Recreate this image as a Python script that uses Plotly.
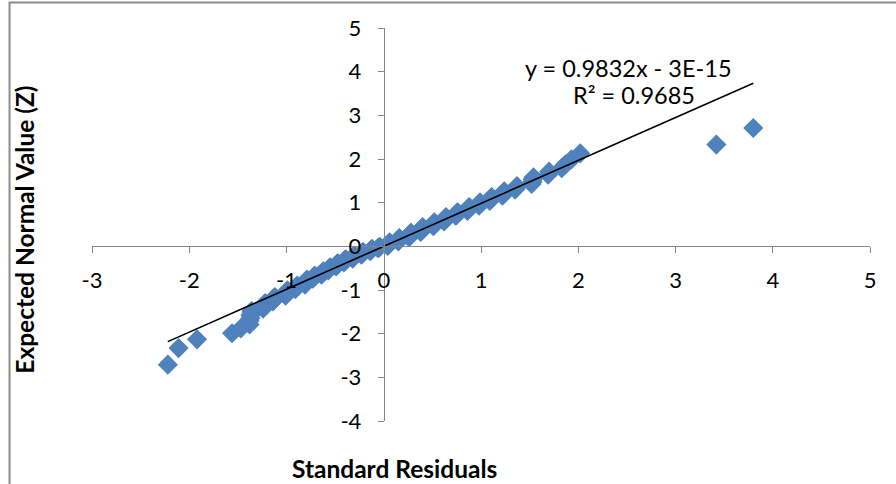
import plotly.graph_objects as go

# Standard residuals (sorted) and their expected normal scores
std_residuals = [
    -2.22, -2.11, -1.92, -1.56, -1.47,
    -1.38, -1.38, -1.37, -1.37, -1.36, -1.36,
    -1.24, -1.23, -1.23, -1.22,
    -1.14, -1.13, -1.13, -1.12,
    -1.01, -1.01, -1.00, -1.00, -0.99,
    -0.91, -0.90, -0.90, -0.89,
    -0.81, -0.81, -0.80, -0.80, -0.79, -0.79,
    -0.73, -0.72, -0.72, -0.71,
    -0.64, -0.64, -0.63, -0.63, -0.62,
    -0.57, -0.57, -0.56, -0.56, -0.55,
    -0.49, -0.49, -0.48, -0.48, -0.47,
    -0.41, -0.41, -0.40, -0.40, -0.39,
    -0.32, -0.32, -0.31, -0.31, -0.30,
    -0.23, -0.23, -0.22, -0.22, -0.21,
    -0.14, -0.13, -0.13, -0.12,
    -0.06, -0.05, -0.04,
    0.04, 0.04, 0.05, 0.05, 0.06, 0.06,
    0.15, 0.15, 0.15, 0.16, 0.16, 0.16,
    0.26, 0.26, 0.27, 0.27, 0.27, 0.28, 0.28,
    0.38, 0.38, 0.39, 0.39, 0.39, 0.40, 0.40,
    0.51, 0.51, 0.51, 0.52, 0.52, 0.52,
    0.62, 0.62, 0.63, 0.63, 0.64, 0.64,
    0.74, 0.75, 0.75, 0.75, 0.76,
    0.86, 0.86, 0.87, 0.87, 0.88,
    0.98, 0.98, 0.99, 0.99,
    1.09, 1.10, 1.10, 1.11,
    1.22, 1.23, 1.23, 1.24,
    1.35, 1.36, 1.37,
    1.52, 1.53, 1.53, 1.54,
    1.69, 1.70,
    1.83, 1.87, 1.93, 2.02, 3.42, 3.80,
]

expected_z = [
    -2.71, -2.33, -2.13, -1.99, -1.88, -1.79, -1.71, -1.64, -1.58, -1.53,
    -1.48, -1.43, -1.38, -1.34, -1.30, -1.26, -1.23, -1.19, -1.16, -1.13,
    -1.10, -1.07, -1.04, -1.01, -0.98, -0.95, -0.93, -0.90, -0.88, -0.85,
    -0.83, -0.81, -0.78, -0.76, -0.74, -0.72, -0.70, -0.67, -0.65, -0.63,
    -0.61, -0.59, -0.57, -0.55, -0.53, -0.52, -0.50, -0.48, -0.46, -0.44,
    -0.42, -0.40, -0.39, -0.37, -0.35, -0.33, -0.31, -0.30, -0.28, -0.26,
    -0.25, -0.23, -0.21, -0.19, -0.18, -0.16, -0.14, -0.13, -0.11, -0.09,
    -0.08, -0.06, -0.04, -0.03, -0.01,
    0.01, 0.03, 0.04, 0.06, 0.08, 0.09, 0.11, 0.13, 0.14, 0.16,
    0.18, 0.19, 0.21, 0.23, 0.25, 0.26, 0.28, 0.30, 0.31, 0.33,
    0.35, 0.37, 0.39, 0.40, 0.42, 0.44, 0.46, 0.48, 0.50, 0.52,
    0.53, 0.55, 0.57, 0.59, 0.61, 0.63, 0.65, 0.67, 0.70, 0.72,
    0.74, 0.76, 0.78, 0.81, 0.83, 0.85, 0.88, 0.90, 0.93, 0.95,
    0.98, 1.01, 1.04, 1.07, 1.10, 1.13, 1.16, 1.19, 1.23, 1.26,
    1.30, 1.34, 1.38, 1.43, 1.48, 1.53, 1.58, 1.64, 1.71, 1.79,
    1.88, 1.99, 2.13, 2.33, 2.71,
]

# Linear trend line coefficients and fit statistic
slope = 0.9832
intercept = -3e-15
r_squared = 0.9685

x_ticks = [-3, -2, -1, 0, 1, 2, 3, 4, 5]
y_ticks = [-4, -3, -2, -1, 0, 1, 2, 3, 4, 5]
x_tick_labels = ["-3", "-2", "-1", "0", "1", "2", "3", "4", "5"]
y_tick_labels = ["-4", "-3", "-2", "-1", "0", "1", "2", "3", "4", "5"]

x_range = [x_ticks[0], x_ticks[-1]]
y_range = [y_ticks[0], y_ticks[-1]]

FONT = "Lato, 'Open Sans', sans-serif"
AXIS_GREY = "#868686"

x_line = [min(std_residuals), max(std_residuals)]
y_line = [slope * v + intercept for v in x_line]

fig = go.Figure()

fig.add_trace(go.Scatter(
    x=std_residuals, y=expected_z, mode="markers",
    marker=dict(symbol="diamond", size=15.5, color="#4F81BD", line=dict(width=0)),
    showlegend=False, hoverinfo="x+y",
))

fig.add_trace(go.Scatter(
    x=x_line, y=y_line, mode="lines",
    line=dict(color="black", width=1.6),
    showlegend=False, hoverinfo="skip",
))

# Axes cross at the origin
x_pos = (0 - y_range[0]) / (y_range[1] - y_range[0])
y_pos = (0 - x_range[0]) / (x_range[1] - x_range[0])

fig.update_xaxes(
    range=x_range, tickvals=x_ticks, ticktext=x_tick_labels,
    anchor="free", position=x_pos,
    showline=True, linecolor=AXIS_GREY, linewidth=1,
    ticks="outside", ticklen=6, tickcolor=AXIS_GREY, tickwidth=1,
    showgrid=False, zeroline=False, automargin=False,
    tickfont=dict(family=FONT, size=22, color="black"),
    ticklabelstandoff=8,
)
fig.update_yaxes(
    range=y_range, tickvals=y_ticks, ticktext=y_tick_labels,
    anchor="free", position=y_pos,
    showline=True, linecolor=AXIS_GREY, linewidth=1,
    ticks="outside", ticklen=6, tickcolor=AXIS_GREY, tickwidth=1,
    showgrid=False, zeroline=False, automargin=False,
    tickfont=dict(family=FONT, size=22, color="black"),
    ticklabelstandoff=12,
)

# Regression equation and R²
fig.add_annotation(
    x=0.689, y=0.898, xref="paper", yref="paper", showarrow=False,
    xanchor="center", yanchor="middle",
    text=f"y = {slope}x - 3E-15",
    font=dict(family=FONT, size=23.5, color="black"),
)
fig.add_annotation(
    x=0.697, y=0.83, xref="paper", yref="paper", showarrow=False,
    xanchor="center", yanchor="middle",
    text=f"R² = {r_squared}",
    font=dict(family=FONT, size=23.5, color="black"),
)

# Axis titles
fig.add_annotation(
    x=0.389, y=-0.12, xref="paper", yref="paper", showarrow=False,
    xanchor="center", yanchor="middle",
    text="<b>Standard Residuals</b>",
    font=dict(family=FONT, size=24.5, color="black"),
)
fig.add_annotation(
    x=-0.086, y=0.487, xref="paper", yref="paper", showarrow=False,
    xanchor="center", yanchor="middle", textangle=-90,
    text="<b>Expected Normal Value (Z)</b>",
    font=dict(family=FONT, size=24.5, color="black"),
)

# Chart-area border
fig.add_shape(
    type="rect", xref="paper", yref="paper",
    x0=-0.106, y0=-0.5, x1=1.3, y1=1.065,
    line=dict(color="#8c8c8c", width=2), fillcolor="rgba(0,0,0,0)", layer="below",
)

fig.update_layout(
    width=896, height=484,
    margin=dict(l=92, r=26, t=28, b=63),
    plot_bgcolor="white", paper_bgcolor="white",
)

fig.write_html("out.html")
